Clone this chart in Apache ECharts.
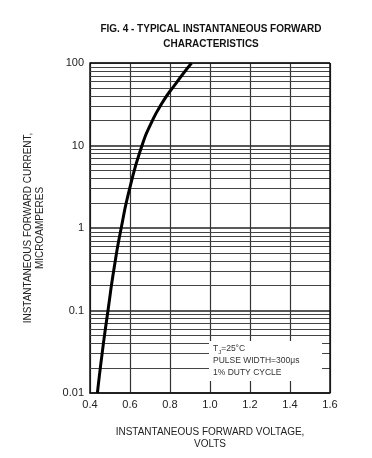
<!DOCTYPE html>
<html>
<head>
<meta charset="utf-8">
<script src="https://cdn.jsdelivr.net/npm/echarts@6/dist/echarts.min.js"></script>
<style>
html,body{margin:0;padding:0;background:#fff;}
#c{width:372px;height:458px;}
</style>
</head>
<body>
<div id="c"></div>
<script>
// Curve: forward voltage (V) vs forward current (µA)
var voltage = [0.437, 0.462, 0.49, 0.52, 0.556, 0.601, 0.66, 0.703, 0.758, 0.828, 0.908];
var current = [0.01, 0.032, 0.1, 0.32, 1, 3.2, 10, 18, 32, 56, 100];

// Axis ticks
var xTicks = [0.4, 0.6, 0.8, 1.0, 1.2, 1.4, 1.6];
var yTicks = [0.01, 0.1, 1, 10, 100];
var yLabels = ['0.01', '0.1', '1', '10', '100'];
// Minor horizontal grid lines (log paper)
var yMinorLines = [0.02,0.03,0.04,0.05,0.06,0.07,0.08,0.09,
                   0.2,0.3,0.4,0.5,0.6,0.7,0.8,0.9,
                   2,3,4,5,6,7,8,9,
                   20,30,40,50,60,70,80,90];

var titleLines = ['FIG. 4 - TYPICAL INSTANTANEOUS FORWARD', 'CHARACTERISTICS'];
var noteLines = ['T{sub|J}=25°C', 'PULSE WIDTH=300μs', '1% DUTY CYCLE'];

var chart = echarts.init(document.getElementById('c'), null, {renderer: 'canvas'});
var font = '"Liberation Sans", Arial, sans-serif';
var pts = voltage.map(function (v, i) { return [v, current[i]]; });

chart.setOption({
  animation: false,
  backgroundColor: '#fff',
  grid: {left: 90, right: 42, top: 63, bottom: 65, containLabel: false},
  xAxis: {
    type: 'value', min: 0.4, max: 1.6, interval: 0.2,
    axisLine: {show: true, lineStyle: {color: '#111', width: 1.5}},
    axisTick: {show: false},
    axisLabel: {color: '#222', fontFamily: font, fontSize: 11, margin: 6,
      formatter: function (v) { return v.toFixed(1); }},
    splitLine: {show: true, lineStyle: {color: '#333', width: 1.2}},
    name: 'INSTANTANEOUS FORWARD VOLTAGE,\nVOLTS',
    nameLocation: 'middle', nameGap: 33,
    nameTextStyle: {color: '#222', fontFamily: font, fontSize: 10, lineHeight: 12, align: 'center'}
  },
  yAxis: {
    type: 'log', logBase: 10, min: 0.01, max: 100,
    axisLine: {show: true, lineStyle: {color: '#111', width: 1.5}},
    axisTick: {show: false},
    axisLabel: {color: '#222', fontFamily: font, fontSize: 11, margin: 6,
      formatter: function (v) {
        for (var i = 0; i < yTicks.length; i++) {
          if (Math.abs(Math.log10(v) - Math.log10(yTicks[i])) < 1e-6) return yLabels[i];
        }
        return '';
      }},
    splitLine: {show: true, lineStyle: {color: '#222', width: 1.5}},
    name: 'INSTANTANEOUS FORWARD CURRENT,\nMICROAMPERES',
    nameLocation: 'middle', nameGap: 44, nameRotate: 90,
    nameTextStyle: {color: '#222', fontFamily: font, fontSize: 10, lineHeight: 12, align: 'center'}
  },
  series: [{
    type: 'line',
    data: pts,
    smooth: 0.6,
    showSymbol: false,
    lineStyle: {color: '#000', width: 3},
    z: 5,
    markLine: {
      silent: true,
      symbol: ['none', 'none'],
      label: {show: false},
      lineStyle: {color: '#444', width: 1, type: 'solid'},
      data: yMinorLines.map(function (v) { return {yAxis: v}; }),
      z: 1
    }
  }, {
    type: 'line',
    data: [[1.6, 0.01], [1.6, 100]],
    showSymbol: false,
    silent: true,
    lineStyle: {color: '#111', width: 1.5},
    z: 4
  }, {
    type: 'line',
    data: [[0.4, 100], [1.6, 100]],
    showSymbol: false,
    silent: true,
    lineStyle: {color: '#111', width: 1.5},
    z: 4
  }],
  graphic: [
    {type: 'text', x: 211, y: 22, z: 10,
     style: {text: titleLines.join('\n'), font: 'bold 10px ' + font, fill: '#111',
             align: 'center', textAlign: 'center', lineHeight: 15}},
    {type: 'rect', x: 209, y: 341, z: 20,
     shape: {width: 113, height: 40}, style: {fill: '#fff', stroke: null}},
    {type: 'text', x: 213, y: 343, z: 21,
     style: {
       text: noteLines.join('\n'),
       font: '8.5px ' + font, fill: '#333', lineHeight: 12,
       rich: {sub: {fontSize: 6, verticalAlign: 'bottom', fill: '#333', fontFamily: font}}
     }}
  ]
});
</script>
</body>
</html>
